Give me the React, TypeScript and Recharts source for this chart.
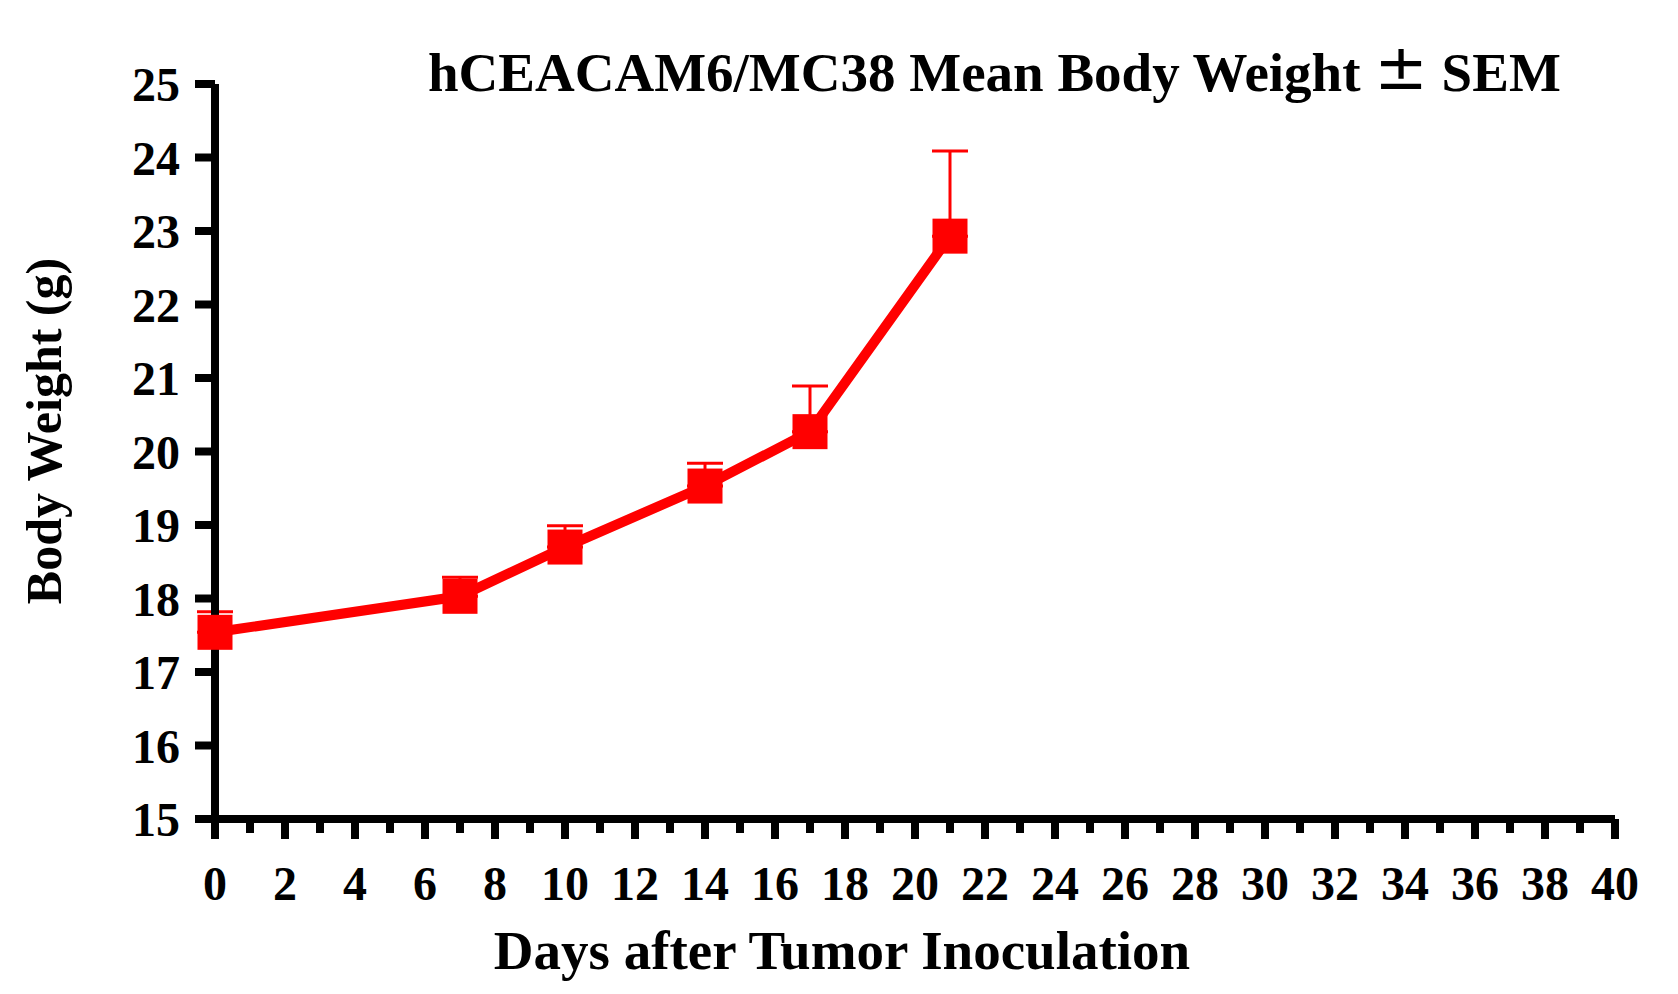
import { LineChart, Line, XAxis, YAxis, ErrorBar, Label, Customized } from 'recharts';

const DAYS = [0, 7, 10, 14, 17, 21];
const MEAN_WEIGHT = [17.54, 18.03, 18.7, 19.53, 20.27, 22.93];
const SEM = [0.28, 0.26, 0.29, 0.31, 0.62, 1.16];

const X_TICKS = [
  0, 1, 2, 3, 4, 5, 6, 7, 8, 9, 10, 11, 12, 13, 14, 15, 16, 17, 18, 19, 20,
  21, 22, 23, 24, 25, 26, 27, 28, 29, 30, 31, 32, 33, 34, 35, 36, 37, 38, 39, 40,
];
const Y_TICKS = [15, 16, 17, 18, 19, 20, 21, 22, 23, 24, 25];

const TITLE = 'hCEACAM6/MC38 Mean Body Weight';
const X_LABEL = 'Days after Tumor Inoculation';
const Y_LABEL = 'Body Weight (g)';

const FONT = '"Liberation Serif", "Times New Roman", serif';
const RED = '#ff0000';

const data = DAYS.map((day, i) => ({
  day,
  weight: MEAN_WEIGHT[i],
  err: [0, SEM[i]],
}));

const TICK_SIZE = 20;
const TICK_MARGIN = 27;

function DayTick(props: any) {
  const { x, y, payload } = props;
  const axisY = y - TICK_SIZE - TICK_MARGIN;
  const major = payload.value % 2 === 0;
  return (
    <g>
      <line x1={x} x2={x} y1={axisY} y2={axisY + (major ? 20 : 14)} stroke="#000" strokeWidth={8} />
      {major && (
        <text x={x} y={y + 34} textAnchor="middle" fontFamily={FONT} fontWeight="bold" fontSize={48} fill="#000">
          {payload.value}
        </text>
      )}
    </g>
  );
}

function SquareDot(props: any) {
  const { cx, cy, index } = props;
  return <rect key={`sq-${index}`} x={cx - 17.5} y={cy - 17.5} width={35} height={35} fill={RED} />;
}

export default function App() {
  return (
    <div style={{ position: 'absolute', left: 0, top: 0, background: '#fff' }}>
      <LineChart width={1678} height={994} data={data} margin={{ top: 84, right: 63, bottom: 0, left: 0 }}>
        <XAxis
          dataKey="day"
          type="number"
          domain={[0, 40]}
          ticks={X_TICKS}
          interval={0}
          height={175}
          axisLine={{ stroke: '#000', strokeWidth: 8 }}
          tickLine={false}
          tickSize={TICK_SIZE}
          tickMargin={TICK_MARGIN}
          tick={<DayTick />}
        >
          <Label
            content={() => (
              <text x={842} y={969} textAnchor="middle" fontFamily={FONT} fontWeight="bold" fontSize={55} fill="#000">
                {X_LABEL}
              </text>
            )}
          />
        </XAxis>
        <YAxis
          type="number"
          domain={[15, 25]}
          ticks={Y_TICKS}
          interval={0}
          width={215}
          axisLine={{ stroke: '#000', strokeWidth: 8 }}
          tickLine={{ stroke: '#000', strokeWidth: 8 }}
          tickSize={20}
          tickMargin={15}
          tick={{ fontFamily: FONT, fontWeight: 'bold', fontSize: 48, fill: '#000' }}
        >
          <Label
            content={() => (
              <text
                x={61}
                y={431}
                transform="rotate(-90 61 431)"
                textAnchor="middle"
                fontFamily={FONT}
                fontWeight="bold"
                fontSize={50}
                fill="#000"
              >
                {Y_LABEL}
              </text>
            )}
          />
        </YAxis>
        <Line
          dataKey="weight"
          stroke={RED}
          strokeWidth={10}
          dot={SquareDot}
          activeDot={false}
          isAnimationActive={false}
        >
          <ErrorBar dataKey="err" direction="y" width={18} strokeWidth={3} stroke={RED} isAnimationActive={false} />
        </Line>
        <Customized
          component={() => (
            <text x={428} y={91} fontFamily={FONT} fontWeight="bold" fontSize={55} fill="#000">
              {TITLE}{' '}
              <tspan fontFamily='"DejaVu Sans", sans-serif' fontWeight="normal" fontSize={64} dy={-2}>
                ±
              </tspan>
              <tspan dy={2}> SEM</tspan>
            </text>
          )}
        />
      </LineChart>
    </div>
  );
}
